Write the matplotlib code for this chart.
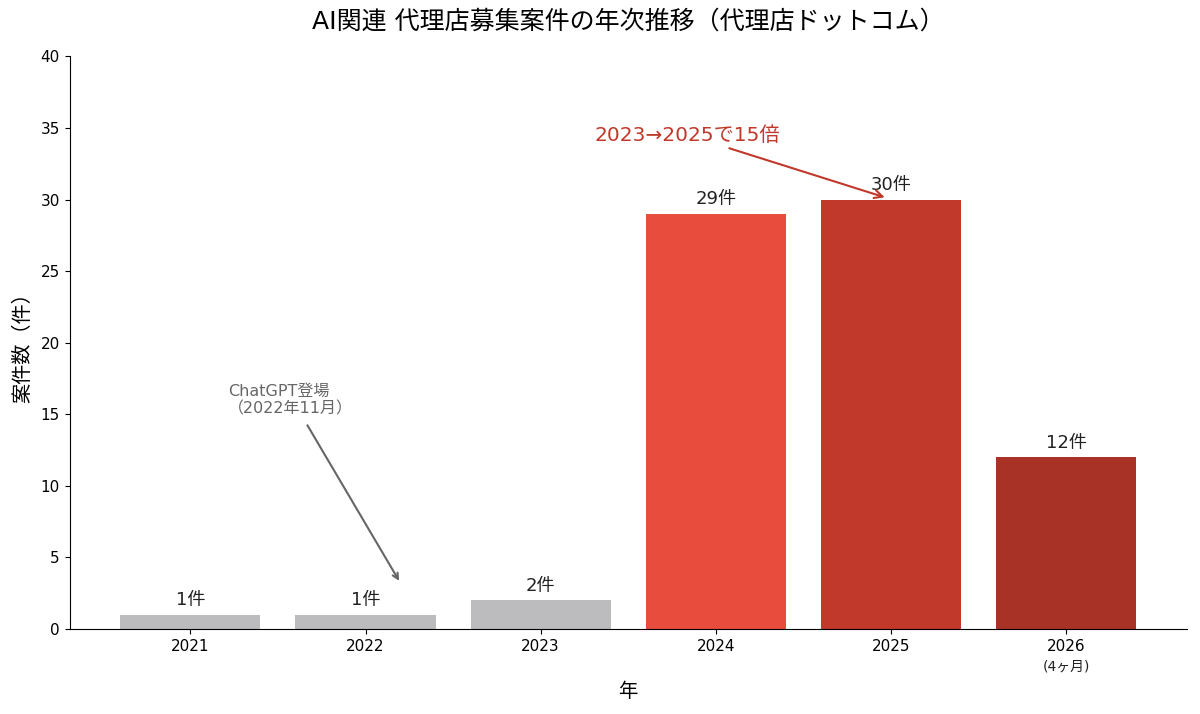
import matplotlib.pyplot as plt

plt.rcParams['font.family'] = ['DejaVu Sans', 'Noto Sans CJK JP']

years = ['2021', '2022', '2023', '2024', '2025', '2026']
counts = [1, 1, 2, 29, 30, 12]
colors = ['#bcbbbd', '#bcbbbd', '#bcbbbd', '#e84c3d', '#c0392b', '#a93226']
labels = [str(c) + '件' for c in counts]

fig, ax = plt.subplots(figsize=(12, 7.14), dpi=100)
x = list(range(len(years)))
bars = ax.bar(x, counts, width=0.8, color=colors)

for xi, c, lab in zip(x, counts, labels):
    ax.annotate(lab, (xi, c), xytext=(0, 4), textcoords='offset points',
                ha='center', va='bottom', fontsize=13, color='#222222')

ax.set_xticks(x)
ax.set_xticklabels(years, fontsize=11)
# 2026 is only 4 months
ax.text(5, -0.053, '(4ヶ月)', transform=ax.get_xaxis_transform(),
        ha='center', va='top', fontsize=10, color='#222222')

ax.set_ylim(0, 40)
ax.set_yticks(range(0, 41, 5))
ax.tick_params(axis='y', labelsize=11)
ax.spines['top'].set_visible(False)
ax.spines['right'].set_visible(False)

ax.set_xlabel('年', fontsize=14, labelpad=20)
ax.set_ylabel('案件数（件）', fontsize=14.5, labelpad=6)
ax.set_title('AI関連 代理店募集案件の年次推移（代理店ドットコム）', fontsize=18, pad=20)

# ChatGPT note: text and arrow drawn separately
ax.text(0.215, 16, 'ChatGPT登場\n（2022年11月）', ha='left', va='center',
        multialignment='left', fontsize=11.5, color='#666666')
ax.annotate('', xy=(1.2, 3.2), xytext=(0.66, 14.4),
            arrowprops=dict(arrowstyle='->', color='#666666', lw=1.5))

ax.annotate('2023→2025で15倍', xy=(3.98, 30.1), xytext=(2.84, 34.5),
            ha='center', va='center', fontsize=14.5, color='#c0392b',
            arrowprops=dict(arrowstyle='->', color='#c0392b', lw=1.5))

plt.subplots_adjust(left=0.058, right=0.989, top=0.921, bottom=0.119)
plt.savefig('out.png')
